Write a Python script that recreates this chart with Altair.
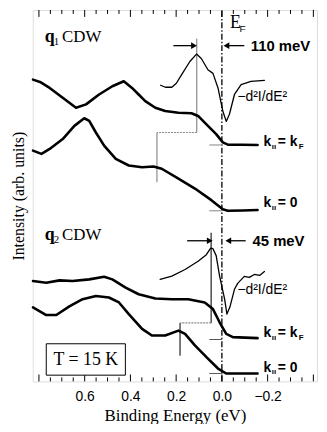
import altair as alt
import pandas as pd

# ---------------- data ----------------
# q1 CDW, k|| = kF
A_E = [0.826, 0.792, 0.753, 0.696, 0.638, 0.594, 0.537, 0.479, 0.429, 0.393, 0.364, 0.335,
       0.291, 0.248, 0.190, 0.133, 0.104, 0.061, 0.025, -0.004, -0.026, -0.091, -0.156]
A_I = [304.7, 302, 296.3, 286.3, 276.3, 279.7, 289.7, 298, 303, 296.3, 289.7, 283,
       276.3, 273, 271.3, 270.7, 268, 258, 249.7, 241.3, 239, 239, 238.7]
# q1 CDW, k|| = 0
B_E = [0.826, 0.789, 0.753, 0.696, 0.645, 0.602, 0.580, 0.551, 0.515, 0.464, 0.407, 0.349,
       0.299, 0.263, 0.190, 0.118, 0.046, -0.004, -0.026, -0.091, -0.156]
B_I = [233, 229.7, 234.7, 244.7, 258, 265.7, 263, 251.3, 238, 224.7, 218, 216.3,
       217, 214.7, 204.7, 194.7, 183, 173.7, 172.3, 172.5, 173]
# q1 -d2I/dE2
D1_E = [0.268, 0.247, 0.219, 0.199, 0.176, 0.140, 0.111, 0.090, 0.061, 0.039, 0.017, -0.004,
        -0.019, -0.033, -0.055, -0.084, -0.127, -0.186]
D1_I = [299, 297, 297, 301, 309.7, 323, 330.5, 326, 314.7, 311, 296.3, 273,
        262.5, 269.7, 289.7, 299.7, 303, 304]
# q2 CDW, k|| = kF
C_E = [0.826, 0.768, 0.710, 0.653, 0.580, 0.515, 0.479, 0.421, 0.364, 0.291, 0.219, 0.147,
       0.075, 0.039, 0.010, -0.019, -0.048, -0.156]
C_I = [101.3, 99.7, 102, 101.3, 103, 105.7, 103, 94.7, 88, 83.7, 83, 83,
       79.7, 73, 59.7, 48, 44.7, 43.7]
# q2 CDW, k|| = 0
D_E = [0.826, 0.768, 0.724, 0.667, 0.609, 0.551, 0.494, 0.450, 0.407, 0.349, 0.306, 0.248,
       0.190, 0.161, 0.118, 0.061, 0.017, -0.019, -0.156]
D_I = [74.7, 67, 67, 75.7, 83, 86.3, 84.7, 79.7, 68, 53, 46.3, 46.3,
       51.3, 48, 36.3, 23, 13, 8, 8]
# q2 -d2I/dE2
D2_E = [0.270, 0.219, 0.161, 0.104, 0.068, 0.049, 0.039, 0.025, 0.010, -0.012, -0.022, -0.035,
        -0.055, -0.069, -0.098, -0.120, -0.142, -0.165, -0.186]
D2_I = [103, 106.3, 113, 121.3, 128, 134.5, 134, 127, 106.3, 83, 68, 75,
        93, 99, 106, 105, 108, 107, 111]

TICK_LABELS = [0.6, 0.4, 0.2, 0.0, -0.2]
MAJOR_TICKS = [0.8, 0.6, 0.4, 0.2, 0.0, -0.2, -0.4]
MINOR_TICKS = [0.75, 0.7, 0.65, 0.55, 0.5, 0.45, 0.35, 0.3, 0.25, 0.15, 0.1, 0.05,
               -0.05, -0.1, -0.15, -0.25, -0.3, -0.35]

GAP_Q1 = 0.110   # eV
GAP_Q2 = 0.045   # eV

SERIF = "Liberation Serif"
SANS = "Liberation Sans"

# ---------------- scales / encodings ----------------
xs = alt.Scale(domain=[-0.416, 0.827], reverse=True, zero=False, nice=False)
ys = alt.Scale(domain=[0, 375], zero=False, nice=False)

X = alt.X("E:Q", scale=xs, axis=alt.Axis(
    values=TICK_LABELS, format=".1f", title="Binding Energy (eV)",
    ticks=False, domain=False, grid=False,
    labelFont=SANS, labelFontSize=14, labelPadding=8, labelColor="black",
    titleFont=SERIF, titleFontSize=17, titleFontWeight="normal", titlePadding=4,
    titleColor="black"))
Y = alt.Y("I:Q", scale=ys, axis=alt.Axis(
    title="Intensity (arb. units)", labels=False, ticks=False, domain=False, grid=False,
    titleFont=SERIF, titleFontSize=16, titleFontWeight="normal", titlePadding=6,
    titleColor="black"))


def curves(series, width):
    rows = []
    for name, es, is_ in series:
        for e, i in zip(es, is_):
            rows.append({"E": e, "I": i, "s": name})
    return alt.Chart(pd.DataFrame(rows)).mark_line(
        color="black", strokeWidth=width, strokeJoin="round", strokeCap="round"
    ).encode(x=X, y=Y, detail="s:N")


def segs(rows, color="black", width=1.0, dash=None):
    kw = dict(color=color, strokeWidth=width)
    if dash is not None:
        kw["strokeDash"] = dash
    return alt.Chart(pd.DataFrame(rows, columns=["E", "I", "E2", "I2"])).mark_rule(**kw).encode(
        x=X, y=Y, x2=alt.X2("E2:Q"), y2=alt.Y2("I2:Q"))


def txt(t, e, i, size, font=SANS, weight="normal", align="left", baseline="alphabetic"):
    return alt.Chart(pd.DataFrame({"E": [e], "I": [i], "t": [t]})).mark_text(
        font=font, fontSize=size, fontWeight=weight, align=align, baseline=baseline,
        color="black").encode(x=X, y=Y, text="t:N")


def heads(rows, shape):
    return alt.Chart(pd.DataFrame(rows, columns=["E", "I"])).mark_point(
        shape=shape, filled=True, size=45, color="black", opacity=1).encode(x=X, y=Y)


layers = []

# inward ticks
tick_rows = []
for t in MAJOR_TICKS:
    tick_rows += [[t, 0, t, 7], [t, 375, t, 368]]
for t in MINOR_TICKS:
    tick_rows += [[t, 0, t, 4], [t, 375, t, 371]]
layers.append(segs(tick_rows, width=1))

# E_F dash-dot line
layers.append(segs([[0.0, 0, 0.0, 375]], width=1.3, dash=[6, 2, 1.5, 2]))

# q1 gray guides
layers.append(segs([[GAP_Q1, 346, GAP_Q1, 251.3], [0.284, 251.3, 0.284, 201]], color="#8a8a8a", width=1.2))
layers.append(segs([[GAP_Q1, 251.3, 0.284, 251.3]], color="#8a8a8a", width=1.2, dash=[2, 1]))
layers.append(segs([[0.055, 238.7, 0.0, 238.7], [0.055, 172.3, 0.0, 172.3]], color="#9a9a9a", width=1.2))

# q2 dark guides
layers.append(segs([[0.047, 150, 0.047, 59], [0.183, 59, 0.183, 26]], color="#222222", width=1.2))
layers.append(segs([[0.047, 59, 0.183, 59]], color="#888888", width=1.2, dash=[2, 1]))
layers.append(segs([[0.055, 42.3, 0.0, 42.3], [0.055, 8, 0.0, 8]], color="#555555", width=1.0))

# curves
layers.append(curves([("A", A_E, A_I), ("B", B_E, B_I), ("C", C_E, C_I), ("D", D_E, D_I)], 2.6))
layers.append(curves([("D1", D1_E, D1_I), ("D2", D2_E, D2_I)], 1.3))

# arrows
layers.append(segs([[0.212, 339, 0.125, 339], [-0.098, 339, -0.025, 339],
                    [0.152, 142, 0.062, 142], [-0.104, 142, -0.032, 142]], width=1.3))
layers.append(heads([[0.122, 339], [0.053, 142]], "triangle-right"))
layers.append(heads([[-0.020, 339], [-0.028, 142]], "triangle-left"))

# texts
layers += [
    txt("110 meV", -0.126, 339, 15, weight="bold", baseline="middle"),
    txt("45 meV", -0.134, 142, 15, weight="bold", baseline="middle"),
    txt("E", -0.035, 357, 18, font=SERIF),
    txt("F", -0.077, 353, 10, font=SANS),
    txt("q", 0.775, 343, 18, font=SERIF, weight="bold"),
    txt("1", 0.735, 340, 11, font=SERIF),
    txt("CDW", 0.699, 343, 17, font=SERIF),
    txt("q", 0.775, 143, 18, font=SERIF, weight="bold"),
    txt("2", 0.735, 140, 11, font=SERIF),
    txt("CDW", 0.699, 143, 17, font=SERIF),
    txt("\u2212d\u00b2I/dE\u00b2", -0.068, 287, 14, baseline="middle"),
    txt("\u2212d\u00b2I/dE\u00b2", -0.068, 92, 14, baseline="middle"),
]
for lab_i, rhs in [(243, "kF"), (181, "0"), (50, "kF"), (15, "0")]:
    base = lab_i - 5
    layers.append(txt("k", -0.182, base, 14, weight="bold"))
    layers.append(txt("ıı", -0.218, base - 3, 8, weight="bold"))
    if rhs == "kF":
        layers.append(txt("= k", -0.244, base, 14, weight="bold"))
        layers.append(txt("F", -0.336, base - 3, 8, weight="bold"))
    else:
        layers.append(txt("= 0", -0.244, base, 14, weight="bold"))

# T = 15 K box
box = alt.Chart(pd.DataFrame({"E": [0.768], "E2": [0.422], "I": [38], "I2": [6.3]})).mark_rect(
    fill="white", stroke="black", strokeWidth=1).encode(
    x=X, x2=alt.X2("E2:Q"), y=Y, y2=alt.Y2("I2:Q"))
layers.append(box)
layers.append(txt("T = 15 K", 0.595, 22, 18, font=SERIF, align="center", baseline="middle"))

chart = alt.layer(*layers).properties(
    width=287, height=375,
    autosize=alt.AutoSizeParams(type="none"),
    padding={"left": 25, "top": 0, "right": 2, "bottom": 41},
).configure_view(stroke="black", strokeWidth=1.2).configure(background="white")

chart.save("out.html", embed_options={"renderer": "svg", "actions": False})
